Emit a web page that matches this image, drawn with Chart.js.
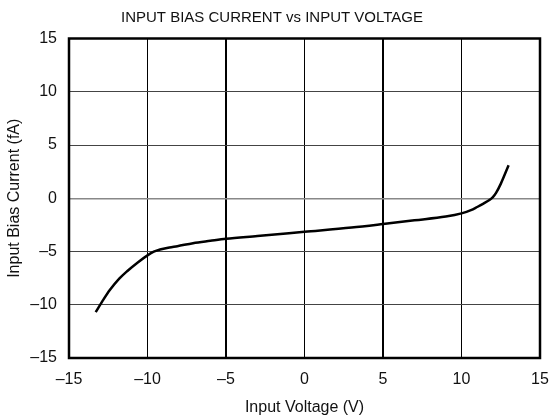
<!DOCTYPE html>
<html>
<head>
<meta charset="utf-8">
<script src="https://cdn.jsdelivr.net/npm/chart.js@4/dist/chart.umd.min.js"></script>
<style>
  html, body { margin: 0; padding: 0; background: #fff; }
  #wrap { width: 552px; height: 420px; }
</style>
</head>
<body>
<div id="wrap"><canvas id="myChart" width="552" height="420"></canvas></div>
<script>
// curve
const voltage = [-13.3, -12.8, -12.4, -11.8, -11.3, -10.6, -10, -9.6, -9.2, -8.6, -8.1, -7.1, -6, -5, -3, 0, 3, 5, 7, 9, 10, 10.6, 11, 11.4, 11.8, 12.0, 12.2, 12.5, 13];
const biasCurrent = [-10.7, -9.5, -8.62, -7.55, -6.85, -6.0, -5.36, -5.02, -4.81, -4.62, -4.5, -4.22, -4.0, -3.81, -3.55, -3.15, -2.75, -2.42, -2.07, -1.72, -1.42, -1.12, -0.82, -0.5, -0.15, 0.1, 0.5, 1.35, 3.1];
const xTicks = [-15, -10, -5, 0, 5, 10, 15];
const yTicks = [-15, -10, -5, 0, 5, 10, 15];

const font = { family: "'Liberation Sans', Arial, sans-serif", size: 16 };
const dash = (v) => String(v).replace("-", "\u2013");

// frame round the plot area
const frame = {
  id: "frame",
  afterDraw(chart) {
    const { ctx, chartArea: a } = chart;
    ctx.save();
    ctx.strokeStyle = "#000";
    ctx.lineWidth = 2.5;
    ctx.strokeRect(a.left, a.top, a.right - a.left, a.bottom - a.top);
    ctx.restore();
  },
};

const ctx = document.getElementById("myChart").getContext("2d");
new Chart(ctx, {
  type: "line",
  data: {
    datasets: [
      {
        data: voltage.map((v, i) => ({ x: v, y: biasCurrent[i] })),
        borderColor: "#000",
        borderWidth: 2.5,
        pointRadius: 0,
        cubicInterpolationMode: "monotone",
        fill: false,
      },
    ],
  },
  options: {
    responsive: false,
    animation: false,
    layout: { padding: { left: 4, right: 12, top: 0, bottom: 3 } },
    plugins: {
      legend: { display: false },
      tooltip: { enabled: false },
      title: {
        display: true,
        text: "INPUT BIAS CURRENT vs INPUT VOLTAGE",
        color: "#111",
        font: { ...font, size: 15, weight: "normal" },
        padding: { top: 8.5, bottom: 12 },
      },
    },
    scales: {
      x: {
        type: "linear",
        min: -15,
        max: 15,
        afterBuildTicks: (s) => { s.ticks = xTicks.map((v) => ({ value: v })); },
        afterFit: (s) => { s.height = 59; s.paddingLeft = 0; s.paddingRight = 0; },
        ticks: { color: "#111", font, padding: 12, maxRotation: 0, callback: dash },
        grid: {
          drawTicks: false,
          color: "#000",
          lineWidth: (c) => (Math.abs(c.tick.value) === 5 ? 2 : 1),
        },
        border: { display: false },
        title: { display: true, text: "Input Voltage (V)", color: "#111", font, padding: { top: 2, bottom: 0 } },
      },
      y: {
        type: "linear",
        min: -15,
        max: 15,
        afterBuildTicks: (s) => { s.ticks = yTicks.map((v) => ({ value: v })); },
        afterFit: (s) => { s.width = 65; s.paddingTop = 0; s.paddingBottom = 0; },
        ticks: { color: "#111", font, padding: 12, callback: dash },
        grid: {
          drawTicks: false,
          color: (c) => (c.tick.value === 0 ? "#888" : "#444"),
          lineWidth: (c) => (c.tick.value === 0 ? 1.5 : 1),
        },
        border: { display: false },
        title: { display: true, text: "Input Bias Current (fA)", color: "#111", font, padding: { top: 1, bottom: 4 } },
      },
    },
  },
  plugins: [frame],
});
</script>
</body>
</html>
